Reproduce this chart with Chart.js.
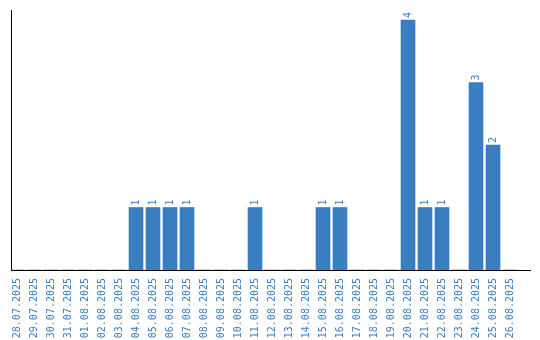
<!DOCTYPE html>
<html>
<head>
<meta charset="utf-8">
<script src="https://cdn.jsdelivr.net/npm/chart.js@4"></script>
<style>
html,body{margin:0;padding:0;background:#fff;}
#wrap{width:540px;height:340px;}
</style>
</head>
<body>
<div id="wrap"><canvas id="c" width="540" height="340"></canvas></div>
<script>
const dates = ["28.07.2025","29.07.2025","30.07.2025","31.07.2025","01.08.2025","02.08.2025","03.08.2025","04.08.2025","05.08.2025","06.08.2025","07.08.2025","08.08.2025","09.08.2025","10.08.2025","11.08.2025","12.08.2025","13.08.2025","14.08.2025","15.08.2025","16.08.2025","17.08.2025","18.08.2025","19.08.2025","20.08.2025","21.08.2025","22.08.2025","23.08.2025","24.08.2025","25.08.2025","26.08.2025"];
const counts = [0,0,0,0,0,0,0,1,1,1,1,0,0,0,1,0,0,0,1,1,0,0,0,4,1,1,0,3,2,0];

const BLUE = 'rgb(58,126,194)';
const FONT = '"DejaVu Sans Mono"';
const points = dates.map((d,i)=>({x:i,y:counts[i]}));

const labelPlugin = {
  id:'vlabels',
  afterDatasetsDraw(chart){
    const ctx = chart.ctx;
    const meta = chart.getDatasetMeta(0);
    ctx.save();
    ctx.fillStyle = BLUE;
    ctx.font = '10px ' + FONT;
    ctx.textAlign = 'left';
    ctx.textBaseline = 'middle';
    meta.data.forEach((bar,i)=>{
      const v = counts[i];
      if (!v) return;
      ctx.save();
      ctx.translate(bar.x, bar.y - 2);
      ctx.rotate(-Math.PI/2);
      ctx.fillText(String(v), 0, 0);
      ctx.restore();
    });
    ctx.restore();
  }
};

new Chart(document.getElementById('c'), {
  type:'bar',
  data:{datasets:[{data:points, backgroundColor:BLUE, borderWidth:0, barThickness:14}]},
  options:{
    responsive:false, animation:false,
    layout:{padding:{left:11,right:10,top:10,bottom:0}},
    plugins:{legend:{display:false}, tooltip:{enabled:false}},
    scales:{
      x:{
        type:'linear', min:-0.353, max:30.176, offset:false,
        grid:{display:false, offset:false},
        border:{display:true,color:'#000',width:1},
        ticks:{stepSize:1, includeBounds:false, autoSkip:false, maxRotation:90, minRotation:90,
          padding:0, color:BLUE, font:{family:FONT, size:10},
          callback:(v)=> (Number.isInteger(v) && dates[v]) ? dates[v] : ''},
        afterFit:(s)=>{s.height=70; s.paddingLeft=0; s.paddingRight=0;}
      },
      y:{
        min:0, max:4.16,
        grid:{display:false},
        border:{display:true,color:'#000',width:1},
        ticks:{display:false},
        afterFit:(s)=>{s.width=0;}
      }
    }
  },
  plugins:[labelPlugin]
});
</script>
</body>
</html>
